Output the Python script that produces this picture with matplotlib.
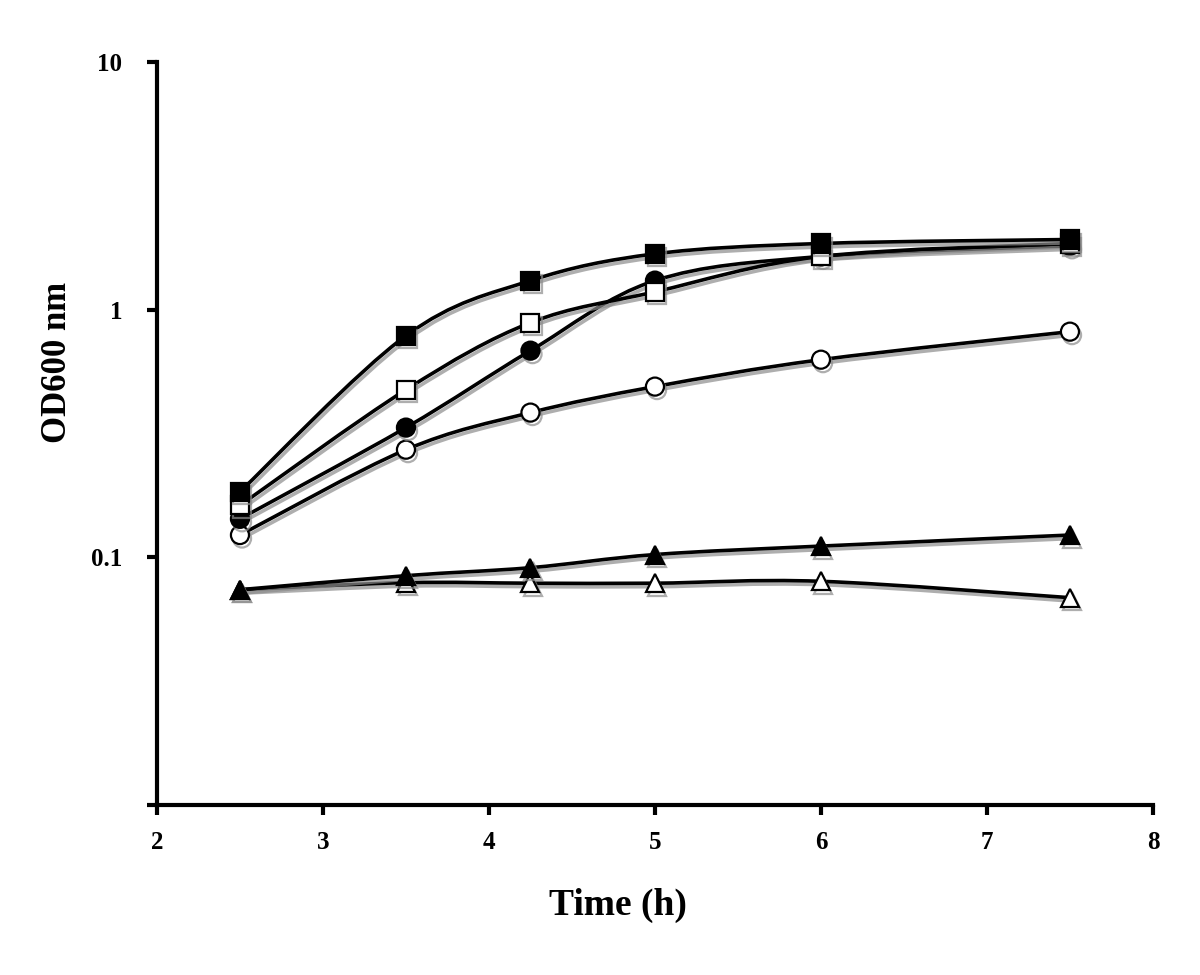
import numpy as np
import matplotlib
matplotlib.use("Agg")
import matplotlib.pyplot as plt
from matplotlib.path import Path
from matplotlib.patches import PathPatch
import matplotlib.patheffects as pe

plt.rcParams["font.family"] = ["Liberation Serif", "DejaVu Serif"]

# sampling times (h)
time_h = [2.5, 3.5, 4.25, 5, 6, 7.5]

# OD600 readings per strain/condition
od_filled_square = [0.184, 0.785, 1.31, 1.68, 1.85, 1.92]
od_open_square = [0.162, 0.475, 0.886, 1.18, 1.64, 1.85]
od_filled_circle = [0.143, 0.334, 0.683, 1.31, 1.64, 1.81]
od_open_circle = [0.123, 0.272, 0.384, 0.489, 0.628, 0.815]
od_filled_tri = [0.074, 0.0843, 0.0908, 0.1026, 0.111, 0.123]
od_open_tri = [0.074, 0.079, 0.0786, 0.0786, 0.080, 0.0687]

series = [
    (od_open_tri, "^", "white"),
    (od_filled_tri, "^", "black"),
    (od_open_circle, "o", "white"),
    (od_filled_circle, "o", "black"),
    (od_open_square, "s", "white"),
    (od_filled_square, "s", "black"),
]


def smooth_path(x, y):
    # Excel-style smoothed line: cubic Bezier segments, tangents from neighbours (log y)
    x = np.asarray(x, float)
    ly = np.log10(np.asarray(y, float))
    n = len(x)
    verts = [(x[0], 10 ** ly[0])]
    codes = [Path.MOVETO]
    t = 1 / 6
    for i in range(n - 1):
        p0 = (x[max(i - 1, 0)], ly[max(i - 1, 0)])
        p1 = (x[i], ly[i])
        p2 = (x[i + 1], ly[i + 1])
        p3 = (x[min(i + 2, n - 1)], ly[min(i + 2, n - 1)])
        c1 = (p1[0] + (p2[0] - p0[0]) * t, p1[1] + (p2[1] - p0[1]) * t)
        c2 = (p2[0] - (p3[0] - p1[0]) * t, p2[1] - (p3[1] - p1[1]) * t)
        for c in (c1, c2, p2):
            verts.append((c[0], 10 ** c[1]))
        codes += [Path.CURVE4] * 3
    return Path(verts, codes)


fig = plt.figure(figsize=(12, 9.75), dpi=100)
ax = fig.add_axes([0.1308, 0.1744, 0.83, 0.762])
ax.set_yscale("log")
ax.set_xlim(2, 8)
ax.set_ylim(0.01, 10)


def shadow():
    return [pe.SimpleLineShadow(offset=(1.5, -2.5), shadow_color="0.55", alpha=0.7), pe.Normal()]


for vals, mk, fc in series:
    patch = PathPatch(smooth_path(time_h, vals), fill=False, edgecolor="black",
                      linewidth=2.6, zorder=2)
    patch.set_path_effects(shadow())
    ax.add_patch(patch)
    ln, = ax.plot(time_h, vals, linestyle="none", marker=mk, markersize=13,
                  markerfacecolor=fc, markeredgecolor="black", markeredgewidth=1.6,
                  zorder=3)
    ln.set_path_effects(shadow())

for side in ["top", "right"]:
    ax.spines[side].set_visible(False)
for side in ["left", "bottom"]:
    ax.spines[side].set_linewidth(3)

ax.set_xticks([2, 3, 4, 5, 6, 7, 8])
ax.set_xticklabels(["2", "3", "4", "5", "6", "7", "8"])
ax.set_yticks([0.01, 0.1, 1, 10])
ax.set_yticklabels(["", "0.1", "1", "10"])
ax.yaxis.set_minor_locator(matplotlib.ticker.NullLocator())
ax.tick_params(axis="both", direction="out", length=7, width=3, labelsize=18)
ax.tick_params(axis="x", pad=12)
ax.tick_params(axis="y", pad=18)
for lbl in ax.get_xticklabels() + ax.get_yticklabels():
    lbl.set_fontweight("bold")

ax.set_xlabel("Time (h)", fontsize=27, fontweight="bold")
ax.set_ylabel("OD600 nm", fontsize=25, fontweight="bold")
ax.xaxis.set_label_coords(0.463, -0.135)
ax.yaxis.set_label_coords(-0.100, 0.596)
ax.xaxis.label.set_verticalalignment("center")
ax.yaxis.label.set_verticalalignment("center")

fig.savefig("out.png", dpi=100)
